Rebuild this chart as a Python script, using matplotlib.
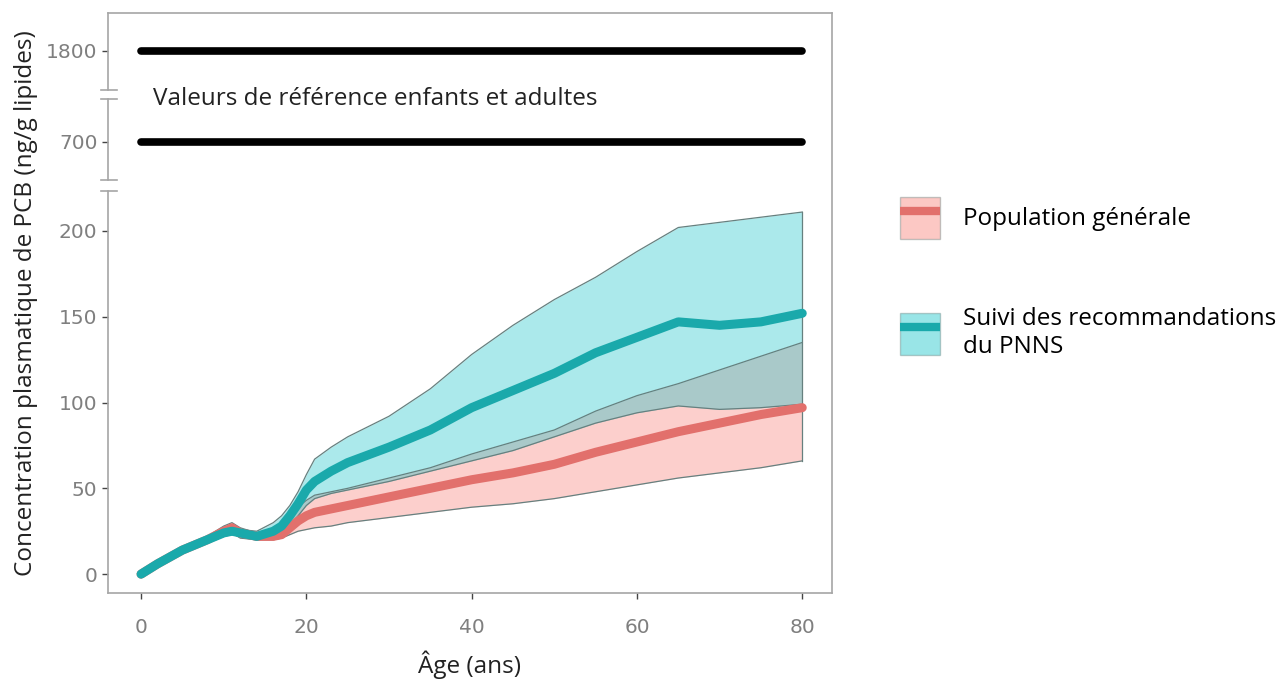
import numpy as np
import matplotlib
matplotlib.use("Agg")
import matplotlib.pyplot as plt
from matplotlib.patches import Patch
from matplotlib.lines import Line2D

# ── Data ──────────────────────────────────────────────────
age = [0, 2, 5, 8, 10, 11, 12, 14, 16, 17, 18, 19, 20, 21, 23, 25, 30, 35,
       40, 45, 50, 55, 60, 65, 70, 75, 80]

pnns_mean = [0, 6, 14, 20, 24, 25, 24, 22, 25, 28, 34, 41, 49, 54, 60, 65, 74, 84,
             97, 107, 117, 129, 138, 147, 145, 147, 152]
pnns_low = [-2, 4, 12, 18, 22, 23, 22, 20, 22, 24, 28, 34, 40, 44, 47, 49, 54, 60,
            66, 72, 80, 88, 94, 98, 96, 97, 99]
pnns_high = [2, 8, 16, 22, 26, 27, 26, 25, 30, 34, 40, 48, 58, 67, 74, 80, 92, 108,
             128, 145, 160, 173, 188, 202, 205, 208, 211]

pop_mean = [0, 6, 14, 20, 25, 27, 24, 22, 22, 23, 27, 31, 34, 36, 38, 40, 45, 50,
            55, 59, 64, 71, 77, 83, 88, 93, 97]
pop_low = [-2, 4, 12, 18, 22, 24, 21, 20, 20, 21, 23, 25, 26, 27, 28, 30, 33, 36,
           39, 41, 44, 48, 52, 56, 59, 62, 66]
pop_high = [2, 8, 16, 22, 28, 30, 27, 24, 25, 28, 34, 39, 43, 46, 48, 50, 56, 62,
            70, 77, 84, 95, 104, 111, 119, 127, 135]

ref_values = [700, 1800]
ref_age = [0, 80]

x_ticks = [0, 20, 40, 60, 80]
y_ticks = [0, 50, 100, 150, 200, 700, 1800]

series_labels = ["Population générale", "Suivi des recommandations\ndu PNNS"]

# ── Colours ───────────────────────────────────────────────
POP_FILL = '#F8766D'
POP_LINE = '#E2706C'
PNNS_FILL = '#00BFC4'
PNNS_LINE = '#1AA9AB'
EDGE = '#66807F'
BORDER = '#A6A6A6'
TXT = '#222222'

# ── Broken y axis as a piecewise-linear scale ─────────────
DATA_K = [-1000, 226.4, 445, 975, 1546, 5000]
POS_K = [-1000, 226.4, 226.5, 279.5, 279.6, 625.0]


def fwd(y):
    return np.interp(y, DATA_K, POS_K)


def inv(p):
    return np.interp(p, POS_K, DATA_K)


fig = plt.figure(figsize=(12.84, 6.8), dpi=100)
ax = fig.add_axes([108 / 1284, 87 / 680, 724 / 1284, 580 / 680])
ax.set_yscale('function', functions=(fwd, inv))
ax.set_xlim(-4, 83.6)
ax.set_ylim(-11, 2020)

# bands
ax.fill_between(age, pop_low, pop_high, color=POP_FILL, alpha=0.35, lw=0, zorder=2)
ax.fill_between(age, pnns_low, pnns_high, color=PNNS_FILL, alpha=0.33, lw=0, zorder=3)
for s in (pop_low, pop_high, pnns_low, pnns_high):
    ax.plot(age, s, color=EDGE, lw=0.9, zorder=4)
ax.plot([age[-1], age[-1]], [pop_low[-1], pnns_high[-1]], color=EDGE, lw=0.9, zorder=4)

# means
ax.plot(age, pop_mean, color=POP_LINE, lw=6.5, solid_capstyle='round', zorder=5)
ax.plot(age, pnns_mean, color=PNNS_LINE, lw=6.5, solid_capstyle='round', zorder=6)

# reference values
for v in ref_values:
    ax.plot(ref_age, [v, v], color='black', lw=5.5, solid_capstyle='round', zorder=6)
ax.text(0.062, 0.852, "Valeurs de référence enfants et adultes", transform=ax.transAxes,
        fontsize=17.5, family='Open Sans', color=TXT, va='center', ha='left')

# axes styling
ax.set_xticks(x_ticks)
ax.set_yticks(y_ticks)
ax.set_yticklabels([str(t) for t in y_ticks])
ax.minorticks_off()
ax.tick_params(axis='both', length=4, width=1, color='#444444', labelcolor='#7F7F7F',
               labelsize=14.5)
ax.tick_params(axis='x', pad=14)
for lab in ax.get_xticklabels() + ax.get_yticklabels():
    lab.set_family('DejaVu Sans')

for side in ('top', 'right', 'bottom'):
    ax.spines[side].set_color(BORDER)
    ax.spines[side].set_linewidth(1.2)
ax.spines['left'].set_visible(False)

# left border with break marks
to_ax = lambda py: (593 - py) / 580
brk = [(191, 180), (99, 90)]
segs = [(0, to_ax(191)), (to_ax(180), to_ax(99)), (to_ax(90), 1)]
for y0, y1 in segs:
    ax.plot([0, 0], [y0, y1], transform=ax.transAxes, color=BORDER, lw=1.2,
            clip_on=False, zorder=7)
for pair in brk:
    for py in pair:
        ax.plot([-0.009, 0.013], [to_ax(py), to_ax(py)], transform=ax.transAxes,
                color=BORDER, lw=1.2, clip_on=False, zorder=7)

ax.set_xlabel("Âge (ans)", family='Open Sans', fontsize=17.5, color=TXT, labelpad=10)
ax.set_ylabel("Concentration plasmatique de PCB (ng/g lipides)", family='Open Sans',
              fontsize=17.5, color=TXT, labelpad=6)

# legend
handles = [
    (Patch(facecolor=POP_FILL, alpha=0.4, edgecolor=EDGE, lw=1),
     Line2D([], [], color=POP_LINE, lw=6, solid_capstyle='butt')),
    (Patch(facecolor=PNNS_FILL, alpha=0.4, edgecolor=EDGE, lw=1),
     Line2D([], [], color=PNNS_LINE, lw=6, solid_capstyle='butt')),
]
fig.legend(handles, series_labels, loc='upper left', bbox_to_anchor=(878 / 1284, 1 - 175 / 680),
           frameon=False, handlelength=1.65, handleheight=2.28, labelspacing=2.8,
           handletextpad=0.95, prop={'family': 'Open Sans', 'size': 17.5})

fig.savefig('out.png', dpi=100)
